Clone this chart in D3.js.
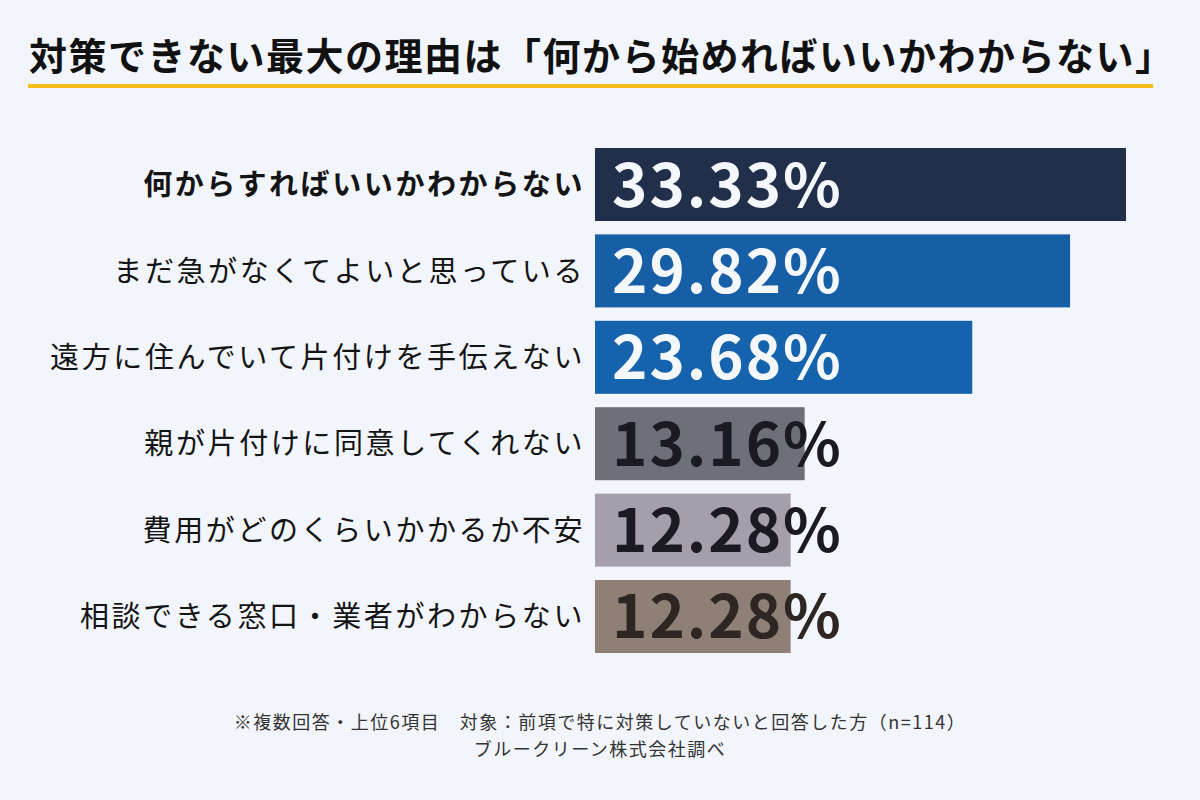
<!DOCTYPE html>
<html lang="ja">
<head>
<meta charset="UTF-8">
<title>対策できない最大の理由</title>
<script src="https://cdn.jsdelivr.net/npm/d3@7"></script>
<style>
  html, body { margin: 0; padding: 0; background: #f2f5fb; }
  svg { display: block; font-family: "Noto Sans CJK JP", "Noto Sans", sans-serif; }
</style>
</head>
<body>
<svg id="chart" width="1200" height="800"></svg>
<script>
// data
const reasons = [
  "何からすればいいかわからない",
  "まだ急がなくてよいと思っている",
  "遠方に住んでいて片付けを手伝えない",
  "親が片付けに同意してくれない",
  "費用がどのくらいかかるか不安",
  "相談できる窓口・業者がわからない"
];
const percents = [33.33, 29.82, 23.68, 13.16, 12.28, 12.28];
const barColors = ["#222f4a", "#165ea6", "#1563ac", "#6d7079", "#a59fab", "#8f8077"];
const textColors = ["#f4f7fb", "#f4f7fb", "#f4f7fb", "#1b1a22", "#1b1a22", "#2e2622"];

const title = "対策できない最大の理由は「何から始めればいいかわからない」";
const notes = [
  "※複数回答・上位6項目　対象：前項で特に対策していないと回答した方（n=114）",
  "ブルークリーン株式会社調べ"
];

const svg = d3.select("#chart");

svg.append("rect").attr("width", 1200).attr("height", 800).attr("fill", "#f2f5fb");

// title + yellow underline
svg.append("text")
  .attr("x", 29).attr("y", 70)
  .attr("font-size", 38).attr("font-weight", 700)
  .attr("letter-spacing", 1.5)
  .attr("fill", "#111")
  .text(title);

svg.append("rect")
  .attr("x", 28).attr("y", 84)
  .attr("width", 1125).attr("height", 4)
  .attr("fill", "#f7be1a");

const x = d3.scaleLinear().domain([0, d3.max(percents)]).range([595, 1126]);
const y = d3.scaleBand().domain(reasons).range([148, 653]).paddingInner(0.155).paddingOuter(0);

const rows = svg.append("g").selectAll("g")
  .data(reasons)
  .join("g");

rows.append("rect")
  .attr("x", x(0))
  .attr("y", d => y(d))
  .attr("width", (d, i) => x(percents[i]) - x(0))
  .attr("height", y.bandwidth())
  .attr("fill", (d, i) => barColors[i]);

rows.append("text")
  .attr("x", 585)
  .attr("y", d => y(d) + y.bandwidth() / 2)
  .attr("dy", "0.37em")
  .attr("text-anchor", "end")
  .attr("font-size", 29)
  .attr("letter-spacing", 2.6)
  .attr("font-weight", (d, i) => i === 0 ? 700 : 400)
  .attr("fill", "#141414")
  .text(d => d);

rows.append("text")
  .attr("x", 612)
  .attr("y", d => y(d) + y.bandwidth() / 2 + 22)
  .attr("font-size", 60)
  .attr("font-weight", 700)
  .attr("letter-spacing", 2)
  .attr("fill", (d, i) => textColors[i])
  .text((d, i) => percents[i].toFixed(2) + "%");

// footnotes
svg.append("g").selectAll("text")
  .data(notes)
  .join("text")
  .attr("x", 600)
  .attr("y", (d, i) => 729 + i * 27)
  .attr("text-anchor", "middle")
  .attr("font-size", 18)
  .attr("letter-spacing", 1.5)
  .attr("fill", "#333")
  .text(d => d);
</script>
</body>
</html>
